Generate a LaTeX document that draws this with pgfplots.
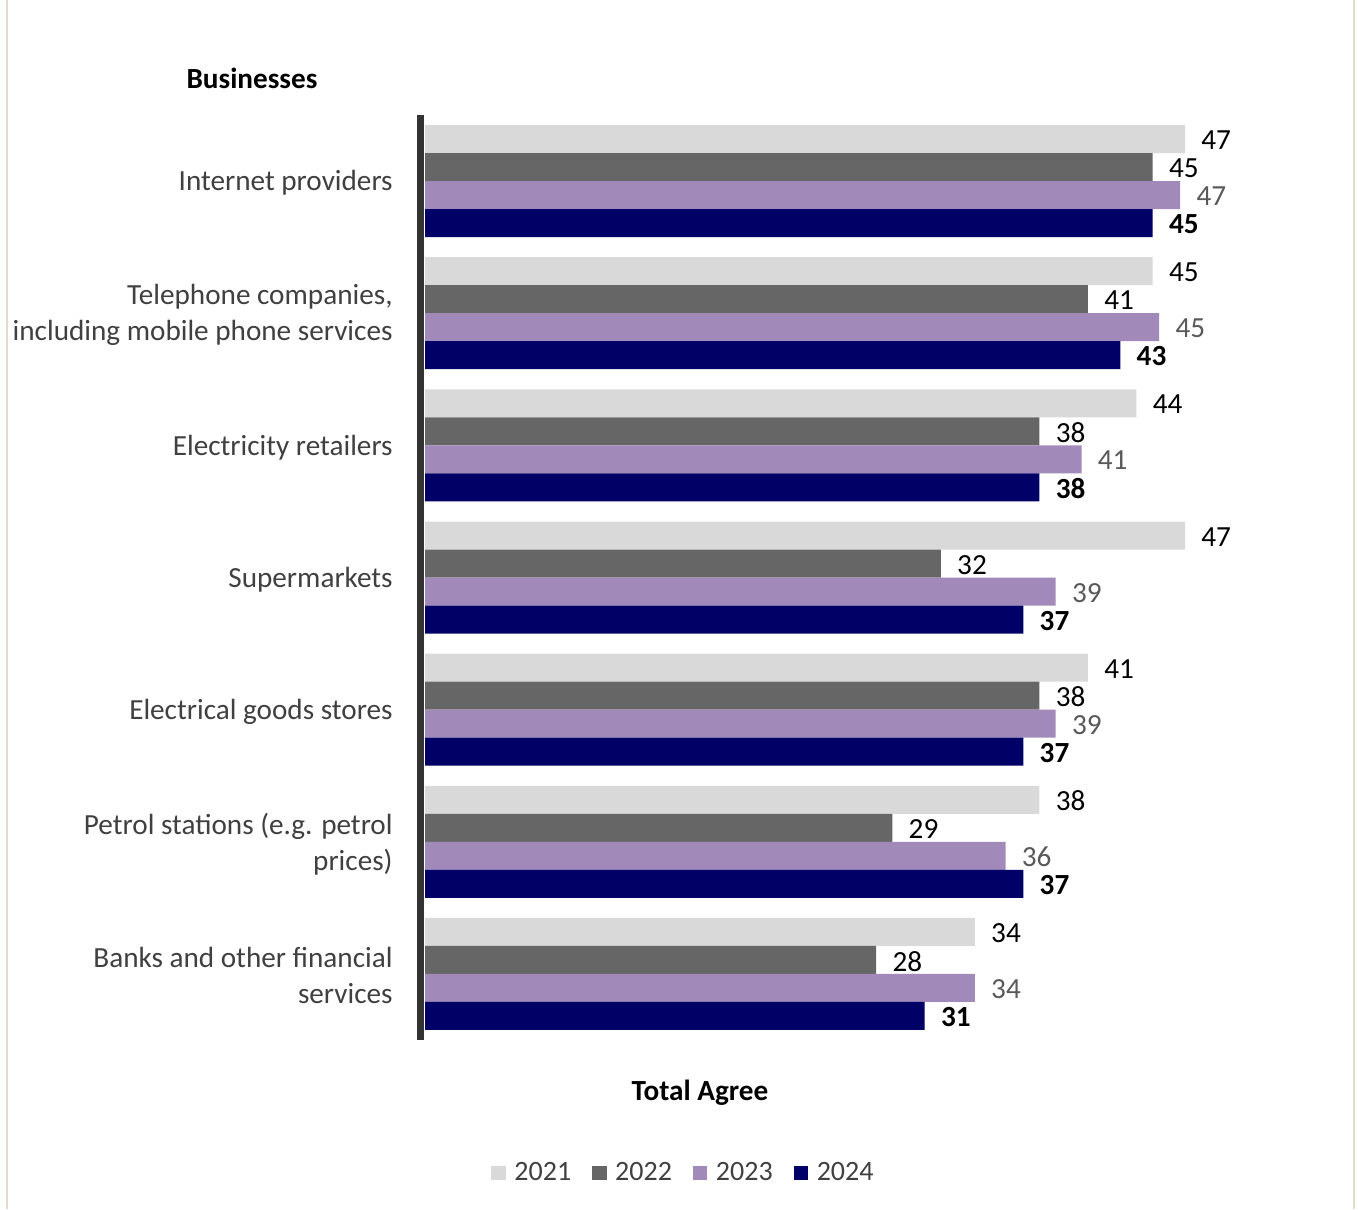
\documentclass[border=0pt]{standalone}
\usepackage{pgfplots}
\pgfplotsset{compat=1.18}
\usepackage{pgfplotstable}
\usepackage{fontspec}
\setmainfont{Carlito}
\definecolor{c21}{HTML}{D9D9D9}
\definecolor{c22}{HTML}{666666}
\definecolor{c23}{HTML}{A18AB9}
\definecolor{c24}{HTML}{000066}
\definecolor{axgray}{HTML}{333333}
\definecolor{labgray}{HTML}{404040}
\definecolor{valgray}{HTML}{595959}
\definecolor{framec}{HTML}{E2DDCB}
\newcommand{\lblfont}{\fontsize{14.6}{18}\selectfont}
\pgfplotstableread{
cat y21 y22 y23 y24
0 47.0 45.0 46.7 45.0
1 45.0 41.0 45.4 43.0
2 44.0 38.0 40.6 38.0
3 47.0 31.9 39.0 37.0
4 41.0 38.0 39.0 37.0
5 38.0 28.9 35.9 37.0
6 34.0 27.9 34.0 30.9
}\datatable
\pgfplotsset{sqlegend/.style={legend image code/.code={\fill[##1] (0pt,-3.6pt) rectangle (7.2pt,3.6pt); \path (9.5pt,0pt);}}}
\begin{document}
\begin{tikzpicture}[x=1pt,y=1pt]
\useasboundingbox (0,0) rectangle (679,-604.5);
\draw[framec, line width=1pt] (3.25,0) -- (3.25,-604.5);
\draw[framec, line width=1pt] (677,0) -- (677,-604.5);
\begin{axis}[
  at={(210.25pt,-57.5pt)}, anchor=north west,
  scale only axis, width=406.5pt, height=462.5pt,
  xbar, bar width=0.2119,
  xmin=-0.28, xmax=50, ymin=-0.5, ymax=6.5, y dir=reverse,
  axis x line=none, axis y line=left,
  y axis line style={line width=3.5pt, axgray, -},
  ytick={0,1,2,3,4,5,6},
  yticklabels={Internet providers,{Telephone companies,\\including mobile phone services},Electricity retailers,Supermarkets,Electrical goods stores,{Petrol stations (e.g. petrol\\prices)},{Banks and other financial\\services}},
  major tick length=0pt,
  yticklabel style={align=right, text=labgray, font=\lblfont, inner sep=0pt, xshift=-13.75pt, yshift=-1pt},
  point meta=x,
  nodes near coords={\pgfmathprintnumber[fixed,precision=0,assume math mode=true]{\pgfplotspointmeta}},
  every node near coord/.append style={font=\lblfont, inner sep=0pt, anchor=west, xshift=8pt, yshift=-0.6pt},
  sqlegend,
  legend style={at={(0.3247,-0.1438)}, anchor=center, draw=none, legend columns=4, font=\fontsize{14}{16}\selectfont, text=labgray, /tikz/every even column/.append style={column sep=8.5pt}},
  clip=false,
]
\addplot[fill=c21, draw=none, bar shift=-0.3178, every node near coord/.append style={text=black}] table[x=y21, y=cat] {\datatable};
\addplot[fill=c22, draw=none, bar shift=-0.1060, every node near coord/.append style={text=black}] table[x=y22, y=cat] {\datatable};
\addplot[fill=c23, draw=none, bar shift=0.1060, every node near coord/.append style={text=valgray}] table[x=y23, y=cat] {\datatable};
\addplot[fill=c24, draw=none, bar shift=0.3178, every node near coord/.append style={text=black, font=\lblfont\bfseries}] table[x=y24, y=cat] {\datatable};
\legend{2021,2022,2023,2024}
\end{axis}
\node[font=\bfseries\lblfont] at (126,-39) {Businesses};
\node[font=\bfseries\lblfont] at (350,-546.5) {Total Agree};
\end{tikzpicture}
\end{document}
